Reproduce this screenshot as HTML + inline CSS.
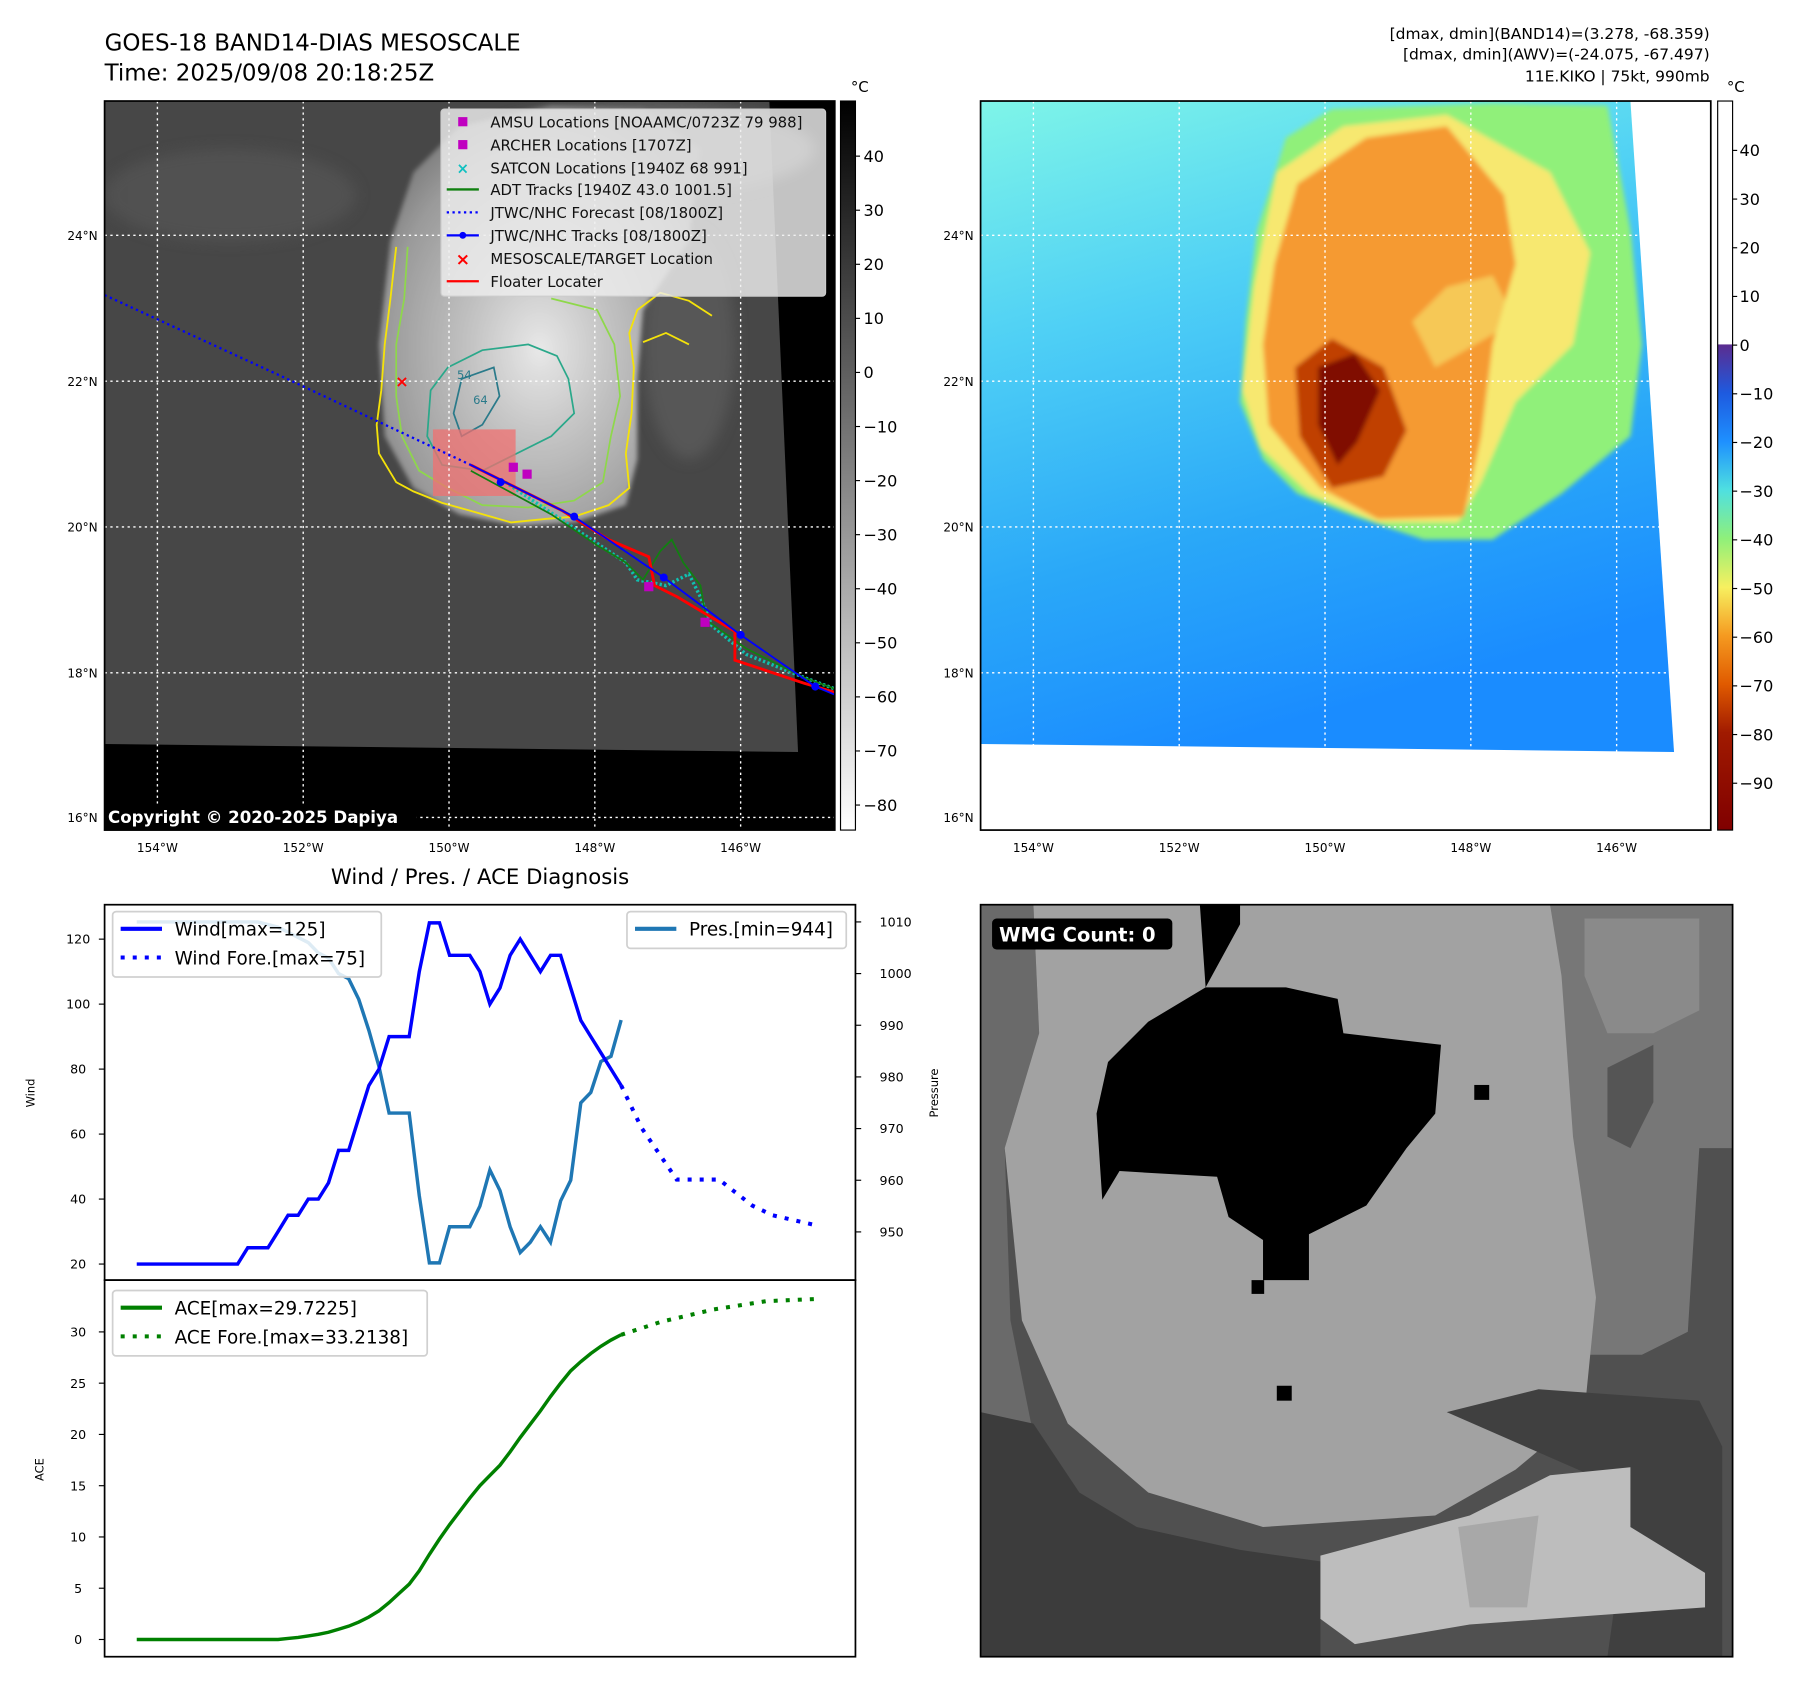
<!DOCTYPE html>
<html><head><meta charset="utf-8">
<style>
html,body{margin:0;padding:0;background:#fff;}
svg{display:block;font-family:"DejaVu Sans","Liberation Sans",sans-serif;}
</style></head>
<body>
<svg id="fig" width="1797" height="1690" viewBox="0 0 1565 1472" xmlns="http://www.w3.org/2000/svg">
<defs>
<filter id="blur3"><feGaussianBlur stdDeviation="6"/></filter>
<filter id="blur1"><feGaussianBlur stdDeviation="2"/></filter>
<linearGradient id="cbGray" x1="0" y1="0" x2="0" y2="1"><stop offset="0" stop-color="#000"/><stop offset="1" stop-color="#fff"/></linearGradient>
<linearGradient id="cbJet" x1="0" y1="0" x2="0" y2="1">
<stop offset="0" stop-color="#5b2c8f"/><stop offset="0.1" stop-color="#1e5adf"/><stop offset="0.2" stop-color="#1e90ff"/><stop offset="0.3" stop-color="#4fe0e0"/><stop offset="0.4" stop-color="#8ff07a"/><stop offset="0.5" stop-color="#f7f060"/><stop offset="0.6" stop-color="#f59a20"/><stop offset="0.7" stop-color="#e05a00"/><stop offset="0.8" stop-color="#a01a00"/><stop offset="1" stop-color="#800000"/></linearGradient>
<linearGradient id="blueBg" x1="0" y1="0" x2="0.3" y2="1"><stop offset="0" stop-color="#7ff5e8"/><stop offset="0.35" stop-color="#4fd0f5"/><stop offset="0.7" stop-color="#2aa8f8"/><stop offset="1" stop-color="#1a8cff"/></linearGradient>
<radialGradient id="stormGray" cx="0.5" cy="0.58" r="0.6"><stop offset="0" stop-color="#e8e8e8"/><stop offset="0.35" stop-color="#c4c4c4"/><stop offset="0.8" stop-color="#9a9a9a"/><stop offset="1" stop-color="#7a7a7a"/></radialGradient>
<clipPath id="clipL"><rect x="91" y="88" width="636" height="635"/></clipPath>
<clipPath id="clipR"><rect x="854" y="88" width="636" height="635"/></clipPath>
<clipPath id="clipB"><rect x="854" y="788" width="655" height="655"/></clipPath>
</defs>

<text x="91" y="44" font-size="20">GOES-18 BAND14-DIAS MESOSCALE</text>
<text x="91" y="70" font-size="20">Time: 2025/09/08 20:18:25Z</text>
<text x="1489" y="34" font-size="13.5" text-anchor="end">[dmax, dmin](BAND14)=(3.278, -68.359)</text>
<text x="1489" y="52" font-size="13.5" text-anchor="end">[dmax, dmin](AWV)=(-24.075, -67.497)</text>
<text x="1489" y="71" font-size="13.5" text-anchor="end">11E.KIKO | 75kt, 990mb</text>

<g clip-path="url(#clipL)">
<rect x="91" y="88" width="636" height="635" fill="#000"/>
<polygon points="91,88 670,88 695,655 91,648" fill="#474747"/>
<g filter="url(#blur3)" opacity="0.6">
<ellipse cx="200" cy="170" rx="110" ry="40" fill="#585858"/>
<ellipse cx="600" cy="300" rx="40" ry="100" fill="#626262"/>
<ellipse cx="560" cy="130" rx="150" ry="40" fill="#7a7a7a"/>
</g>
<path d="M340,210 L360,150 L400,110 L480,92 L560,95 L610,130 L600,210 L560,270 L555,330 L555,400 L545,440 L500,455 L450,458 L400,448 L360,425 L335,380 L330,300 Z" fill="url(#stormGray)" filter="url(#blur1)"/>
<path d="M345,215 L340,260 L335,300 L332,340 L328,370 L330,395 L345,420 L360,428 L385,438 L410,445 L445,455 L475,452 L500,450 L530,440 L548,425 L545,395 L550,360 L552,320 L548,290 L555,270 L575,255 L600,262 L620,275 M560,298 L580,290 L600,300" fill="none" stroke="#f4e20a" stroke-width="1.6"/>
<path d="M355,215 L352,260 L345,300 L345,345 L350,380 L365,410 L390,425 L420,440 L460,442 L500,436 L525,420 L532,380 L540,345 L535,300 L520,270 L480,260" fill="none" stroke="#8ed84a" stroke-width="1.5"/>
<path d="M375,340 L372,380 L385,405 L420,410 L450,395 L480,380 L500,360 L495,330 L485,310 L460,300 L420,305 L390,320 Z" fill="none" stroke="#2aa88a" stroke-width="1.5"/>
<path d="M402,330 L395,360 L402,380 L420,370 L435,345 L430,320 Z" fill="none" stroke="#2a7a8a" stroke-width="1.5"/>
<text x="398" y="330" font-size="10" fill="#2a7a8a">54</text>
<text x="412" y="352" font-size="10" fill="#2a7a8a">64</text>
<rect x="377" y="374" width="72" height="58" fill="#f07070" opacity="0.75"/>
<g stroke="#fff" stroke-width="1.2" stroke-dasharray="2,3">
<line x1="137" y1="88" x2="137" y2="723"/><line x1="264" y1="88" x2="264" y2="723"/><line x1="391" y1="88" x2="391" y2="723"/><line x1="518" y1="88" x2="518" y2="723"/><line x1="645" y1="88" x2="645" y2="723"/>
<line x1="91" y1="205" x2="727" y2="205"/><line x1="91" y1="332" x2="727" y2="332"/><line x1="91" y1="459" x2="727" y2="459"/><line x1="91" y1="586" x2="727" y2="586"/><line x1="91" y1="712" x2="727" y2="712"/>
</g>
<polyline points="91,257 250,330 410,405" fill="none" stroke="#0000ff" stroke-width="2" stroke-dasharray="2,3"/>
<polyline points="440,420 500,460 545,490 555,505 580,510 600,500 610,520 620,545 650,570 700,590 727,600" fill="none" stroke="#10c0b0" stroke-width="3" stroke-dasharray="2,2"/>
<polyline points="410,410 480,448 520,475 545,490 560,505 575,480 585,470 595,490 610,510 615,540 650,565 700,590 727,600" fill="none" stroke="#108010" stroke-width="1.5"/>
<polyline points="410,405 450,425 490,445 530,470 565,485 570,510 590,520 640,550 640,575 700,595 727,603" fill="none" stroke="#ff0000" stroke-width="2.5"/>
<polyline points="410,405 450,425 500,450 578,503 645,553 710,598 727,605" fill="none" stroke="#0000ff" stroke-width="1.6"/>
<g fill="#0000ff"><circle cx="436" cy="420" r="3.5"/><circle cx="500" cy="450" r="3.5"/><circle cx="578" cy="503" r="3.5"/><circle cx="645" cy="553" r="3.5"/><circle cx="710" cy="598" r="3.5"/></g>
<g fill="#c000c0"><rect x="443" y="403" width="8" height="8"/><rect x="455" y="409" width="8" height="8"/><rect x="561" y="507" width="8" height="8"/><rect x="610" y="538" width="8" height="8"/></g>
<text x="350" y="337" font-size="14" fill="#ff0000" font-weight="bold" text-anchor="middle">×</text>
<g>
<rect x="384" y="95" width="335" height="163" rx="3" fill="#eee" fill-opacity="0.82" stroke="#ccc"/>
<g font-size="13" fill="#111">
<rect x="399" y="102" width="8" height="8" fill="#c000c0"/><text x="427" y="111">AMSU Locations [NOAAMC/0723Z 79 988]</text>
<rect x="399" y="122" width="8" height="8" fill="#c000c0"/><text x="427" y="131">ARCHER Locations [1707Z]</text>
<text x="403" y="151" fill="#10c0c0" font-size="13" text-anchor="middle" font-weight="bold">×</text><text x="427" y="151">SATCON Locations [1940Z 68 991]</text>
<line x1="389" y1="165" x2="417" y2="165" stroke="#108010" stroke-width="2"/><text x="427" y="170">ADT Tracks [1940Z 43.0 1001.5]</text>
<line x1="389" y1="185" x2="417" y2="185" stroke="#00f" stroke-width="2" stroke-dasharray="2,3"/><text x="427" y="190">JTWC/NHC Forecast [08/1800Z]</text>
<line x1="389" y1="205" x2="417" y2="205" stroke="#00f" stroke-width="2"/><circle cx="403" cy="205" r="3" fill="#00f"/><text x="427" y="210">JTWC/NHC Tracks [08/1800Z]</text>
<text x="403" y="231" fill="#f00" font-size="15" font-weight="bold" text-anchor="middle">×</text><text x="427" y="230">MESOSCALE/TARGET Location</text>
<line x1="389" y1="245" x2="417" y2="245" stroke="#f00" stroke-width="2"/><text x="427" y="250">Floater Locater</text>
</g></g>
<rect x="91" y="700" width="272" height="23" fill="#000"/>
<text x="94" y="717" font-size="14.5" font-weight="bold" fill="#fff">Copyright © 2020-2025 Dapiya</text>
</g>
<rect x="91" y="88" width="636" height="635" fill="none" stroke="#000" stroke-width="1.5"/>
<g>
<rect x="732" y="88" width="13" height="635" fill="url(#cbGray)" stroke="#000" stroke-width="1"/>
<text x="741" y="80" font-size="13">°C</text>
<g id="cbL" font-size="14"></g>
</g>
<g font-size="10.5" text-anchor="end">
<text x="85" y="209">24°N</text><text x="85" y="336">22°N</text><text x="85" y="463">20°N</text><text x="85" y="590">18°N</text><text x="85" y="716">16°N</text></g>
<g font-size="10.5" text-anchor="middle">
<text x="137" y="742">154°W</text><text x="264" y="742">152°W</text><text x="391" y="742">150°W</text><text x="518" y="742">148°W</text><text x="645" y="742">146°W</text></g>

<g clip-path="url(#clipR)">
<rect x="854" y="88" width="636" height="635" fill="#fff"/>
<polygon points="854,88 1420,88 1458,655 854,648" fill="url(#blueBg)"/>
<g filter="url(#blur1)">
<path d="M1120,120 L1160,95 L1300,90 L1400,92 L1420,200 L1430,300 L1420,380 L1360,430 L1300,470 L1240,470 L1180,450 L1130,430 L1100,400 L1080,350 L1085,280 L1095,200 Z" fill="#90f07a"/>
<path d="M1112,150 L1170,110 L1260,100 L1350,150 L1385,220 L1370,300 L1320,350 L1290,420 L1270,455 L1200,455 L1140,430 L1098,390 L1082,340 L1092,250 Z" fill="#f7e870"/>
<path d="M1130,160 L1190,120 L1260,110 L1310,170 L1320,230 L1300,300 L1290,380 L1275,450 L1200,452 L1150,425 L1105,370 L1100,300 L1110,230 Z" fill="#f59a30"/>
<path d="M1128,320 L1160,295 L1205,320 L1225,375 L1205,415 L1160,425 L1132,380 Z" fill="#c04000"/>
<path d="M1148,320 L1180,308 L1202,340 L1182,385 L1165,405 L1148,370 Z" fill="#800d00"/>
<path d="M1230,280 L1260,250 L1300,240 L1320,280 L1250,320 Z" fill="#f7e870" opacity="0.6"/>
</g>
<g stroke="#fff" stroke-width="1.2" stroke-dasharray="2,3">
<line x1="900" y1="88" x2="900" y2="723"/><line x1="1027" y1="88" x2="1027" y2="723"/><line x1="1154" y1="88" x2="1154" y2="723"/><line x1="1281" y1="88" x2="1281" y2="723"/><line x1="1408" y1="88" x2="1408" y2="723"/>
<line x1="854" y1="205" x2="1490" y2="205"/><line x1="854" y1="332" x2="1490" y2="332"/><line x1="854" y1="459" x2="1490" y2="459"/><line x1="854" y1="586" x2="1490" y2="586"/><line x1="854" y1="712" x2="1490" y2="712"/>
</g>
</g>
<rect x="854" y="88" width="636" height="635" fill="none" stroke="#000" stroke-width="1.5"/>
<g>
<rect x="1496" y="88" width="13" height="212" fill="#fff"/>
<rect x="1496" y="300" width="13" height="423" fill="url(#cbJet)"/>
<rect x="1496" y="88" width="13" height="635" fill="none" stroke="#000" stroke-width="1"/>
<text x="1504" y="80" font-size="13">°C</text>
<g id="cbR" font-size="14"></g>
</g>
<g font-size="10.5" text-anchor="end">
<text x="848" y="209">24°N</text><text x="848" y="336">22°N</text><text x="848" y="463">20°N</text><text x="848" y="590">18°N</text><text x="848" y="716">16°N</text></g>
<g font-size="10.5" text-anchor="middle">
<text x="900" y="742">154°W</text><text x="1027" y="742">152°W</text><text x="1154" y="742">150°W</text><text x="1281" y="742">148°W</text><text x="1408" y="742">146°W</text></g>

<g clip-path="url(#clipB)">
<rect x="854" y="788" width="655" height="655" fill="#505050"/>
<polygon points="854,788 900,788 905,900 875,1000 880,1150 900,1250 854,1260" fill="#6a6a6a"/>
<polygon points="1350,788 1509,788 1509,1000 1480,1000 1470,1160 1430,1180 1380,1180 1360,1000" fill="#777"/>
<polygon points="1380,800 1480,800 1480,880 1440,900 1400,900 1380,850" fill="#8a8a8a"/>
<polygon points="900,788 1350,788 1360,850 1370,990 1390,1130 1380,1230 1320,1280 1250,1320 1100,1330 1000,1300 930,1240 890,1150 875,1000 905,900" fill="#a2a2a2"/>
<polygon points="1400,930 1440,910 1440,960 1420,1000 1400,990" fill="#555"/>
<polygon points="854,1230 900,1240 940,1300 990,1330 1080,1350 1150,1360 1150,1443 854,1443" fill="#3c3c3c"/>
<polygon points="1260,1230 1340,1210 1480,1220 1500,1260 1500,1443 1400,1443 1420,1300" fill="#404040"/>
<polygon points="1150,1355 1280,1320 1350,1285 1420,1278 1420,1330 1485,1370 1485,1400 1280,1415 1180,1432 1150,1410" fill="#bdbdbd"/>
<polygon points="1270,1330 1340,1320 1330,1400 1280,1400" fill="#a8a8a8"/>
<polygon points="1045,788 1080,788 1080,805 1050,860 1000,890 965,925 955,970 960,1045 975,1020 1060,1025 1070,1060 1100,1080 1100,1115 1140,1115 1140,1075 1190,1050 1225,1000 1250,970 1255,910 1170,900 1165,870 1120,860 1050,860" fill="#000"/>
<rect x="1284" y="945" width="13" height="13" fill="#000"/>
<rect x="1112" y="1207" width="13" height="13" fill="#000"/>
<rect x="1090" y="1115" width="11" height="12" fill="#000"/>
</g>
<rect x="854" y="788" width="655" height="655" fill="none" stroke="#000" stroke-width="1.5"/>
<rect x="864" y="800" width="157" height="27" rx="4" fill="#000"/>
<text x="870" y="820" font-size="17" font-weight="bold" fill="#fff">WMG Count: 0</text>

<text x="418" y="770" font-size="18.5" text-anchor="middle">Wind / Pres. / ACE Diagnosis</text>
<g id="chart"></g>
</svg>

<script>
const windIdx = [0,1,2,3,4,5,6,7,8,9,10,11,12,13,14,15,16,17,18,19,20,21,22,23,24,25,26,27,28,29,30,31,32,33,34,35,36,37,38,39,40,41,42,43,44,45,46,47,48];
const windVals = [20,20,20,20,20,20,20,20,20,20,20,25,25,25,30,35,35,40,40,45,55,55,65,75,80,90,90,90,110,125,125,115,115,115,110,100,105,115,120,115,110,115,115,105,95,90,85,80,75];
const presVals = [1010,1010,1010,1010,1010,1010,1010,1010,1010,1010,1010,1010,1010,1009.5,1009,1008,1007,1006,1004,1003,1000,999,995,989,982,973,973,973,957,944,944,951,951,951,955,962,958,951,946,948,951,948,956,960,975,977,983,984,991];
const fcIdx = [48,50,53.5,57.7,61,63,67.2];
const fcWind = [75,62,46,46,38,35,32];
const aceVals = [0,0,0,0,0,0,0,0,0,0,0,0,0,0,0,0.1,0.2,0.35,0.5,0.7,1.0,1.3,1.7,2.2,2.8,3.6,4.5,5.4,6.7,8.3,9.8,11.2,12.5,13.8,15.0,16.0,17.0,18.3,19.7,21.0,22.3,23.7,25.0,26.2,27.1,27.9,28.6,29.2,29.72];
const aceFcIdx = [48,52,57.2,62.4,67.2];
const aceFcVals = [29.72,31,32.2,33,33.2];
const windTicks = [20,40,60,80,100,120];
const presTicks = [950,960,970,980,990,1000,1010];
const aceTicks = [0,5,10,15,20,25,30];
const irCbTicks = [40,30,20,10,0,-10,-20,-30,-40,-50,-60,-70,-80];
const awvCbTicks = [40,30,20,10,0,-10,-20,-30,-40,-50,-60,-70,-80,-90];

const NS = 'http://www.w3.org/2000/svg';
function mk(tag, attrs, parent){const e=document.createElementNS(NS,tag);for(const k in attrs)e.setAttribute(k,attrs[k]);parent.appendChild(e);return e;}
const xS = i => 119 + i*8.79;
const yW = v => 1101 - (v-20)*2.83;
const yP = p => 803 + (1010-p)*4.5;
const yA = v => 1428 - v*8.93;
const yIR = t => 136 + (40-t)*4.71;
const yAWV = t => 131 + (40-t)*4.24;
const fmt = v => v<0 ? '\u2212'+(-v) : ''+v;

const cbL = document.getElementById('cbL');
irCbTicks.forEach(t=>{
  const tx=mk('text',{x:752,y:yIR(t)+5},cbL); tx.textContent=fmt(t);
  
  
  mk('line',{x1:745,x2:749,y1:yIR(t),y2:yIR(t),stroke:'#000'},cbL);
});
const cbR = document.getElementById('cbR');
awvCbTicks.forEach(t=>{
  const tx=mk('text',{x:1515,y:yAWV(t)+5},cbR); tx.textContent=fmt(t);
  
  
  mk('line',{x1:1509,x2:1513,y1:yAWV(t),y2:yAWV(t),stroke:'#000'},cbR);
});

const g = document.getElementById('chart');
const f1 = mk('rect',{x:91,y:788,width:654,height:327,fill:'none',stroke:'#000','stroke-width':1.5},g);


const f2 = mk('rect',{x:91,y:1115,width:654,height:328,fill:'none',stroke:'#000','stroke-width':1.5},g);



windTicks.forEach(t=>{
  mk('line',{x1:86,x2:91,y1:yW(t),y2:yW(t),stroke:'#000'},g);
  const tx=mk('text',{x:68,y:yW(t)+4,'font-size':11,'text-anchor':'middle'},g); tx.textContent=t;
  
  
});
presTicks.forEach(t=>{
  mk('line',{x1:745,x2:750,y1:yP(t),y2:yP(t),stroke:'#000'},g);
  const tx=mk('text',{x:766,y:yP(t)+4,'font-size':11}, g); tx.textContent=t;
  
  
});
aceTicks.forEach(t=>{
  mk('line',{x1:86,x2:91,y1:yA(t),y2:yA(t),stroke:'#000'},g);
  const tx=mk('text',{x:68,y:yA(t)+4,'font-size':11,'text-anchor':'middle'},g); tx.textContent=t;
  
  
});
let yl=mk('text',{x:30,y:952,'font-size':10,'text-anchor':'middle',transform:'rotate(-90 30 952)'},g); yl.textContent='Wind';


yl=mk('text',{x:817,y:952,'font-size':10,'text-anchor':'middle',transform:'rotate(-90 817 952)'},g); yl.textContent='Pressure';


yl=mk('text',{x:38,y:1280,'font-size':10,'text-anchor':'middle',transform:'rotate(-90 38 1280)'},g); yl.textContent='ACE';



const pts = (xs, ys, fy) => xs.map((x,i)=>xS(x).toFixed(1)+','+fy(ys[i]).toFixed(1)).join(' ');
let l;
l=mk('polyline',{points:pts(windIdx,presVals,yP),fill:'none',stroke:'#1f77b4','stroke-width':3},g);


l=mk('polyline',{points:pts(windIdx,windVals,yW),fill:'none',stroke:'#0000ff','stroke-width':3},g);


l=mk('polyline',{points:pts(fcIdx,fcWind,yW),fill:'none',stroke:'#0000ff','stroke-width':3.5,'stroke-dasharray':'3.5,7'},g);


l=mk('polyline',{points:pts(windIdx,aceVals,yA),fill:'none',stroke:'#008000','stroke-width':3},g);


l=mk('polyline',{points:pts(aceFcIdx,aceFcVals,yA),fill:'none',stroke:'#008000','stroke-width':3.5,'stroke-dasharray':'3.5,7'},g);



function legend(x,y,w,h,items,name){
  const lg=mk('g',{},g);
  
  
  mk('rect',{x:x,y:y,width:w,height:h,rx:3,fill:'#fff','fill-opacity':0.85,stroke:'#d0d0d0','stroke-width':1.5},lg);
  items.forEach((it,i)=>{
    const cy=y+15+i*25;
    mk('line',{x1:x+7,x2:x+43,y1:cy,y2:cy,stroke:it.c,'stroke-width':3.5,'stroke-dasharray':it.d||'none'},lg);
    const tx=mk('text',{x:x+54,y:cy+6,'font-size':16},lg); tx.textContent=it.t;
  });
}
legend(98,794,234,57,[{c:'#0000ff',t:'Wind[max=125]'},{c:'#0000ff',t:'Wind Fore.[max=75]',d:'3.5,7'}],'wind-legend');
legend(546,794,191,32,[{c:'#1f77b4',t:'Pres.[min=944]'}],'pressure-legend');
legend(98,1124,274,57,[{c:'#008000',t:'ACE[max=29.7225]'},{c:'#008000',t:'ACE Fore.[max=33.2138]',d:'3.5,7'}],'ace-legend');
</script>
</body></html>
